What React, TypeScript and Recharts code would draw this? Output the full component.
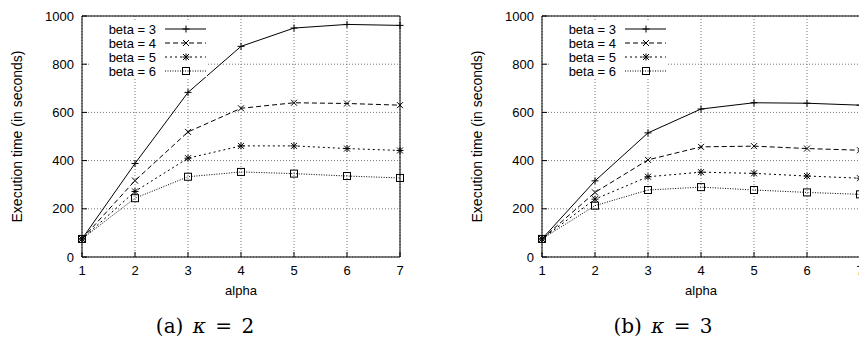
import { CartesianGrid, Legend, Line, LineChart, ReferenceLine, XAxis, YAxis } from "recharts";

const ALPHA = [1, 2, 3, 4, 5, 6, 7];
const Y_TICKS = [0, 200, 400, 600, 800, 1000];
const BETAS = [3, 4, 5, 6];

// (a) kappa = 2
const K2_BETA3 = [75, 388, 683, 874, 950, 965, 961];
const K2_BETA4 = [75, 317, 519, 617, 640, 637, 630];
const K2_BETA5 = [75, 272, 410, 461, 461, 450, 442];
const K2_BETA6 = [75, 244, 333, 353, 346, 336, 328];

// (b) kappa = 3
const K3_BETA3 = [75, 316, 515, 614, 640, 638, 630];
const K3_BETA4 = [75, 268, 403, 457, 460, 450, 443];
const K3_BETA5 = [75, 240, 333, 352, 347, 336, 327];
const K3_BETA6 = [75, 213, 278, 290, 278, 268, 260];

const SANS = '"Liberation Sans", Arial, sans-serif';

// gnuplot-ish point/line types, one per beta
const STYLES = [
  { dash: undefined, marker: "plus" },
  { dash: "5 3", marker: "cross" },
  { dash: "2 3", marker: "star" },
  { dash: "1 1.5", marker: "square" },
];

function Marker({ cx, cy, kind }: { cx: number; cy: number; kind: string }) {
  if (cx == null || cy == null) return null;
  const s = 3.5;
  const d = 3;
  const plus = `M${cx - s},${cy}H${cx + s}M${cx},${cy - s}V${cy + s}`;
  const cross = `M${cx - d},${cy - d}L${cx + d},${cy + d}M${cx - d},${cy + d}L${cx + d},${cy - d}`;
  let path = plus;
  if (kind === "cross") path = cross;
  if (kind === "star") path = plus + cross;
  if (kind === "square") {
    return <rect x={cx - s} y={cy - s} width={2 * s} height={2 * s} fill="none" stroke="#000" strokeWidth={1} />;
  }
  return <path d={path} stroke="#000" strokeWidth={1} fill="none" />;
}

function KeyBox() {
  return (
    <svg width={117} height={56} style={{ display: "block" }}>
      {BETAS.map((b, i) => {
        const y = 8 + i * 14;
        return (
          <g key={b}>
            <text x={66} y={y} textAnchor="end" dominantBaseline="central" fontSize={13} fontFamily={SANS} fill="#000">
              beta = {b}
            </text>
            <line x1={75} x2={116} y1={y} y2={y} stroke="#000" strokeWidth={1} strokeDasharray={STYLES[i].dash} />
            <Marker cx={96} cy={y} kind={STYLES[i].marker} />
          </g>
        );
      })}
    </svg>
  );
}

function Panel({
  series,
  left,
  width,
  plotLeft,
  right,
}: {
  series: number[][];
  left: number;
  width: number;
  plotLeft: number;
  right: number;
}) {
  const data = ALPHA.map((a, i) => {
    const row: Record<string, number> = { alpha: a };
    BETAS.forEach((b, j) => (row["b" + b] = series[j][i]));
    return row;
  });

  return (
    <div style={{ position: "absolute", left, top: 0 }}>
      <LineChart width={width} height={340} data={data} margin={{ top: 16, right, left: 0, bottom: 53 }}>
        <CartesianGrid stroke="#777" strokeDasharray="1 2" />
        <XAxis
          dataKey="alpha"
          type="number"
          domain={[1, 7]}
          ticks={ALPHA}
          height={30}
          tickSize={-5}
          tickMargin={14}
          axisLine={{ stroke: "#000" }}
          tickLine={{ stroke: "#000" }}
          tick={{ fontSize: 13, fill: "#000", fontFamily: SANS }}
          label={{ value: "alpha", position: "bottom", offset: -1, fontSize: 13, fill: "#000", fontFamily: SANS }}
        />
        <YAxis
          domain={[0, 1000]}
          ticks={Y_TICKS}
          width={plotLeft}
          tickSize={-5}
          tickMargin={13}
          axisLine={{ stroke: "#000" }}
          tickLine={{ stroke: "#000" }}
          tick={{ fontSize: 13, fill: "#000", fontFamily: SANS }}
          label={{
            content: (p: any) => {
              const vb = p.viewBox;
              const cx = plotLeft - 65;
              const cy = vb.y + vb.height / 2;
              return (
                <text
                  x={cx}
                  y={cy}
                  transform={`rotate(-90 ${cx} ${cy})`}
                  textAnchor="middle"
                  dominantBaseline="central"
                  fontSize={14}
                  fontFamily={SANS}
                  fill="#000"
                >
                  Execution time (in seconds)
                </text>
              );
            },
          }}
        />
        <ReferenceLine y={1000} stroke="#000" />
        <ReferenceLine x={7} stroke="#000" />
        {BETAS.map((b, j) => (
          <Line
            key={b}
            dataKey={"b" + b}
            type="linear"
            stroke="#000"
            strokeWidth={1}
            strokeDasharray={STYLES[j].dash}
            isAnimationActive={false}
            dot={(p: any) => <Marker key={`${b}-${p.index}`} cx={p.cx} cy={p.cy} kind={STYLES[j].marker} />}
            activeDot={false}
          />
        ))}
        <Legend
          layout="horizontal"
          verticalAlign="middle"
          align="center"
          wrapperStyle={{ left: plotLeft + 8, top: 21, width: 117, height: 56, background: "#fff" }}
          content={() => <KeyBox />}
        />
      </LineChart>
    </div>
  );
}

function Caption({ center, letter, k }: { center: number; letter: string; k: number }) {
  return (
    <div
      style={{
        position: "absolute",
        left: center - 100,
        top: 316,
        width: 200,
        textAlign: "center",
        fontFamily: '"DejaVu Serif", serif',
        fontSize: 20,
        lineHeight: "20px",
        wordSpacing: 3,
        color: "#000",
      }}
    >
      ({letter}) <i>κ</i> = {k}
    </div>
  );
}

export default function App() {
  return (
    <div style={{ position: "absolute", left: 0, top: 0, width: 859, height: 340, overflow: "hidden", background: "#fff" }}>
      <Panel series={[K2_BETA3, K2_BETA4, K2_BETA5, K2_BETA6]} left={0} width={430} plotLeft={82} right={30} />
      <Panel series={[K3_BETA3, K3_BETA4, K3_BETA5, K3_BETA6]} left={430} width={440} plotLeft={112} right={10} />
      <Caption center={205} letter="a" k={2} />
      <Caption center={663} letter="b" k={3} />
    </div>
  );
}
